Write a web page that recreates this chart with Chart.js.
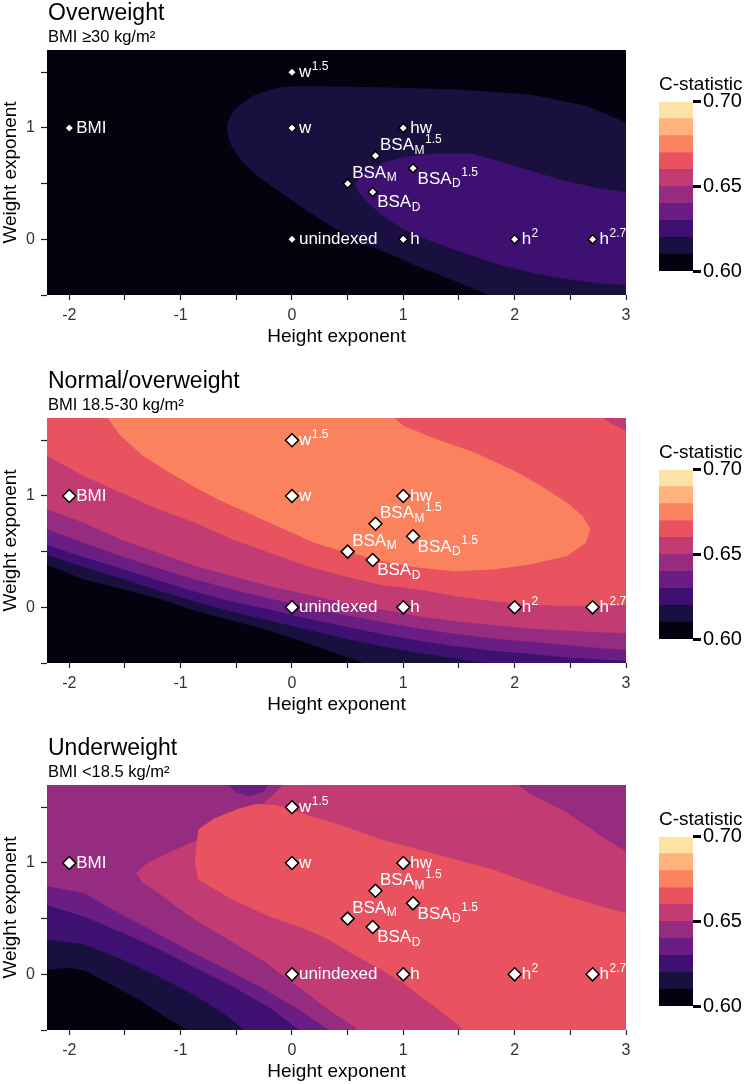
<!DOCTYPE html>
<html><head><meta charset="utf-8">
<script src="https://cdn.jsdelivr.net/npm/chart.js@4/dist/chart.umd.min.js"></script>
<style>
html,body{margin:0;padding:0;background:#fff;overflow:hidden;}
#wrap{position:relative;width:749px;height:1084px;overflow:hidden;}
#wrap canvas{position:absolute;}
</style></head><body><div id="wrap"></div>
<script>
// ---------------- DATA ----------------
const panelTitles = ['Overweight', 'Normal/overweight', 'Underweight'];
const panelSubtitles = ['BMI \u226530 kg/m\u00b2', 'BMI 18.5-30 kg/m\u00b2', 'BMI <18.5 kg/m\u00b2'];

// Indexing methods: height exponent (x), weight exponent (y)
const indexLabels = ['BMI', 'w^1.5', 'w', 'hw', 'BSA_M^1.5', 'BSA_M', 'BSA_D^1.5', 'BSA_D', 'unindexed', 'h', 'h^2', 'h^2.7'];
const heightExp   = [-2, 0, 0, 1, 0.75, 0.5, 1.0875, 0.725, 0, 1, 2, 2.7];
const weightExp   = [1, 1.5, 1, 1, 0.75, 0.5, 0.6375, 0.425, 0, 0, 0, 0];

const xTickValues = [-2, -1.5, -1, -0.5, 0, 0.5, 1, 1.5, 2, 2.5, 3];
const yTickValues = [-0.5, 0, 0.5, 1, 1.5];
const cStatBreaks = [0.60, 0.61, 0.62, 0.63, 0.64, 0.65, 0.66, 0.67, 0.68, 0.69, 0.70];
const cStatTicks  = [0.60, 0.65, 0.70];

// Contour regions (C-statistic >= break), [height exp, weight exp]
const everywhere = [[-3, -1], [4, -1], [4, 2.5], [-3, 2.5]];

// Overweight
const ow061 = [[3.4,1.0],[3.0,1.05],[2.64,1.20],[2.14,1.30],[1.47,1.345],[0.80,1.366],[0.13,1.375],[-0.08,1.37],[-0.2,1.34],[-0.35,1.29],[-0.45,1.22],[-0.53,1.15],[-0.58,1.05],[-0.585,0.97],[-0.55,0.85],[-0.45,0.70],[-0.3,0.56],[-0.1,0.42],[0.1,0.28],[0.3,0.15],[0.5,0.03],[0.7,-0.06],[0.9,-0.14],[1.1,-0.23],[1.3,-0.31],[1.5,-0.39],[1.7,-0.47],[1.8,-0.52],[1.9,-0.7],[3.4,-0.7]];
const ow062 = [[0.57,0.50],[0.62,0.57],[0.70,0.63],[0.80,0.68],[0.92,0.72],[1.06,0.745],[1.3,0.77],[1.6,0.77],[1.8,0.72],[2.1,0.63],[2.4,0.54],[2.7,0.47],[3.0,0.42],[3.4,0.40],[3.4,-0.43],[3.0,-0.41],[2.8,-0.40],[2.5,-0.36],[2.2,-0.31],[1.9,-0.24],[1.66,-0.16],[1.39,-0.07],[1.15,0.02],[0.97,0.11],[0.80,0.22],[0.68,0.33],[0.60,0.42]];

// Normal/overweight
const nw061 = [[-2.5,2.0],[-2.5,0.45],[-2.2,0.385],[-1.87,0.25],[-1.54,0.17],[-1.20,0.08],[-0.87,-0.03],[-0.535,-0.12],[-0.2,-0.21],[0.134,-0.32],[0.47,-0.44],[0.70,-0.52],[0.8,-0.7],[3.4,-0.7],[3.4,2.0]];
const nw062 = [[-2.5,2.0],[-2.5,0.55],[-2.2,0.47],[-1.87,0.36],[-1.54,0.26],[-1.20,0.15],[-0.87,0.05],[-0.535,-0.04],[-0.2,-0.12],[0.134,-0.20],[0.47,-0.28],[0.80,-0.35],[1.14,-0.41],[1.47,-0.46],[1.81,-0.51],[1.9,-0.7],[3.4,-0.7],[3.4,2.0]];
const nw063 = [[-2.5,2.0],[-2.5,0.65],[-2.2,0.56],[-1.87,0.45],[-1.54,0.35],[-1.20,0.24],[-0.87,0.14],[-0.535,0.05],[-0.2,-0.02],[0.134,-0.10],[0.47,-0.17],[0.80,-0.24],[1.14,-0.30],[1.47,-0.35],[1.81,-0.39],[2.14,-0.42],[2.47,-0.45],[2.81,-0.47],[3.0,-0.48],[3.4,-0.5],[3.4,2.0]];
const nw064 = [[-2.5,2.0],[-2.5,0.80],[-2.2,0.70],[-1.87,0.58],[-1.54,0.46],[-1.20,0.35],[-0.87,0.25],[-0.535,0.16],[-0.2,0.08],[0.134,0.0],[0.47,-0.07],[0.80,-0.13],[1.14,-0.19],[1.47,-0.24],[1.81,-0.28],[2.14,-0.31],[2.47,-0.34],[2.81,-0.37],[3.0,-0.38],[3.4,-0.4],[3.4,2.0]];
const nw065 = [[-2.5,2.0],[-2.5,1.0],[-2.2,0.88],[-1.87,0.76],[-1.54,0.61],[-1.20,0.49],[-0.87,0.37],[-0.535,0.28],[-0.2,0.19],[0.134,0.114],[0.47,0.04],[0.80,-0.02],[1.14,-0.08],[1.47,-0.126],[1.81,-0.16],[2.14,-0.19],[2.47,-0.21],[2.81,-0.225],[3.0,-0.23],[3.4,-0.24],[3.4,2.0]];
const nw066 = [[-2.5,2.0],[-2.5,1.46],[-2.2,1.36],[-1.87,1.18],[-1.54,1.03],[-1.20,0.88],[-0.87,0.76],[-0.535,0.61],[-0.2,0.49],[0.134,0.37],[0.47,0.28],[0.80,0.20],[1.14,0.16],[1.47,0.10],[1.81,0.054],[2.14,0.024],[2.47,0.01],[2.81,0.01],[3.0,0.02],[3.4,0.03],[3.4,1.45],[3.0,1.58],[2.85,1.66],[2.72,1.75],[2.65,2.0]];
const nw067 = [[-1.72,1.9],[-1.67,1.72],[-1.54,1.54],[-1.34,1.36],[-1.10,1.21],[-0.87,1.075],[-0.635,0.955],[-0.40,0.85],[-0.2,0.76],[0,0.67],[0.2,0.58],[0.40,0.52],[0.635,0.46],[0.87,0.40],[1.14,0.355],[1.47,0.325],[1.81,0.34],[2.14,0.385],[2.47,0.46],[2.64,0.58],[2.68,0.70],[2.61,0.82],[2.47,0.94],[2.24,1.09],[1.97,1.24],[1.64,1.39],[1.30,1.51],[1.0,1.63],[0.90,1.72],[0.86,1.9]];

// Underweight
const uw061 = [[-2.5,2.0],[-2.5,0.05],[-2.2,0.04],[-2.0,0.06],[-1.85,0.03],[-1.70,-0.05],[-1.37,-0.23],[-1.14,-0.38],[-0.94,-0.50],[-0.9,-0.7],[3.4,-0.7],[3.4,2.0]];
const uw062 = [[-2.5,2.0],[-2.5,0.35],[-2.2,0.31],[-1.87,0.27],[-1.54,0.14],[-1.20,-0.02],[-0.87,-0.19],[-0.60,-0.36],[-0.43,-0.50],[-0.4,-0.7],[3.4,-0.7],[3.4,2.0]];
const uw063 = [[-2.5,2.0],[-2.5,0.68],[-2.2,0.62],[-1.87,0.52],[-1.54,0.38],[-1.20,0.23],[-0.87,0.06],[-0.535,-0.11],[-0.2,-0.30],[0.06,-0.50],[0.1,-0.7],[3.4,-0.7],[3.4,2.0]];
const uw064 = [[-2.5,2.0],[-2.5,0.85],[-2.2,0.79],[-1.87,0.73],[-1.61,0.58],[-1.27,0.40],[-0.94,0.22],[-0.60,0.05],[-0.27,-0.12],[0.067,-0.32],[0.33,-0.50],[0.36,-0.7],[3.4,-0.7],[3.4,2.0],[-0.18,2.0],[-0.18,1.75],[-0.25,1.64],[-0.38,1.60],[-0.5,1.63],[-0.62,1.75],[-0.62,2.0]];
const uw065 = [[-0.05,1.9],[-0.05,1.75],[-0.12,1.66],[-0.25,1.54],[-0.40,1.45],[-0.55,1.37],[-0.70,1.28],[-0.87,1.20],[-1.04,1.12],[-1.20,1.05],[-1.30,1.0],[-1.40,0.91],[-1.34,0.82],[-1.20,0.73],[-1.04,0.61],[-0.87,0.49],[-0.67,0.37],[-0.47,0.25],[-0.27,0.13],[-0.07,-0.02],[0.134,-0.17],[0.33,-0.32],[0.56,-0.47],[0.6,-0.52],[0.63,-0.7],[3.4,-0.7],[3.4,1.05],[3.0,1.1],[2.81,1.22],[2.47,1.45],[2.14,1.62],[2.0,1.72],[1.95,1.9]];
const uw066 = [[-0.84,1.30],[-0.70,1.40],[-0.50,1.48],[-0.33,1.53],[-0.15,1.52],[0.0,1.48],[0.134,1.43],[0.47,1.33],[0.80,1.21],[1.14,1.12],[1.47,1.03],[1.81,0.94],[2.14,0.82],[2.47,0.70],[2.81,0.60],[3.0,0.55],[3.4,0.48],[3.4,-0.8],[1.6,-0.8],[1.54,-0.50],[1.40,-0.38],[1.20,-0.23],[1.0,-0.08],[0.80,0.04],[0.535,0.19],[0.33,0.31],[0.134,0.40],[-0.2,0.52],[-0.535,0.67],[-0.84,0.85],[-0.87,1.0],[-0.86,1.15]];

const overweightRegions = [everywhere, ow061, ow062];
const normalRegions     = [everywhere, nw061, nw062, nw063, nw064, nw065, nw066, nw067];
const underweightRegions= [everywhere, uw061, uw062, uw063, uw064, uw065, uw066];

// ---------------- STYLE ----------------
const bandColors = ['#030310', '#1a1040', '#3d1072', '#6a1d82', '#952c80', '#c23b73', '#e8535f', '#fa825f', '#feb37c', '#fde3a5'];
const FONT = "'Liberation Sans', Arial, Helvetica, sans-serif";
const labelNudge = { 'BSA_M^1.5': [4.5, -10.5], 'BSA_M': [4.5, -10.5], 'BSA_D^1.5': [4.5, 10.5], 'BSA_D': [4.5, 10.5] };
const panels = [
  { regions: overweightRegions, markerRadius: 4.5, top: 0 },
  { regions: normalRegions, markerRadius: 6.5, top: 368 },
  { regions: underweightRegions, markerRadius: 6.5, top: 735 }
];

function drawRich(ctx, s, x, y) {
  const m = s.match(/^([^_^]+)(?:_([^_^]+))?(?:\^(.+))?$/);
  const base = m[1], sub = m[2], sup = m[3];
  ctx.font = '17px ' + FONT;
  ctx.fillText(base, x, y);
  let cx = x + ctx.measureText(base).width;
  ctx.font = '12px ' + FONT;
  let w2 = 0;
  if (sub) { ctx.fillText(sub, cx + 0.5, y + 5); w2 = ctx.measureText(sub).width + 0.5; }
  if (sup) { ctx.fillText(sup, cx + w2 + 0.5, y - 6); }
}

const indexLabelPlugin = {
  id: 'indexLabels',
  afterDatasetsDraw(chart) {
    const idx = chart.data.datasets.length - 1;
    const meta = chart.getDatasetMeta(idx);
    const ctx = chart.ctx;
    ctx.save();
    ctx.fillStyle = '#ffffff';
    ctx.textAlign = 'left';
    ctx.textBaseline = 'middle';
    meta.data.forEach((el, i) => {
      const lab = indexLabels[i];
      const nd = labelNudge[lab] || [7, 0];
      drawRich(ctx, lab, el.x + nd[0], el.y + nd[1]);
    });
    ctx.restore();
  }
};

const panelTextPlugin = {
  id: 'panelText',
  afterDraw(chart, args, o) {
    if (!o || !o.title) return;
    const ctx = chart.ctx;
    ctx.save();
    ctx.fillStyle = '#000';
    ctx.textAlign = 'left';
    ctx.textBaseline = 'alphabetic';
    ctx.font = '23px ' + FONT;
    ctx.fillText(o.title, 48, 20);
    ctx.font = '16.5px ' + FONT;
    ctx.fillText(o.subtitle, 48, 42);
    ctx.restore();
  }
};

const wrap = document.getElementById('wrap');
function makeCanvas(left, top, w, h) {
  const c = document.createElement('canvas');
  c.width = w; c.height = h;
  c.style.left = left + 'px'; c.style.top = top + 'px';
  c.style.width = w + 'px'; c.style.height = h + 'px';
  wrap.appendChild(c);
  return c;
}

panels.forEach((p, pi) => {
  const datasets = p.regions.map((pts, lvl) => ({
    type: 'line',
    data: pts.map(q => ({ x: q[0], y: q[1] })),
    fill: 'shape',
    backgroundColor: bandColors[lvl],
    borderWidth: 0,
    pointRadius: 0,
    pointHitRadius: 0,
    tension: 0,
    order: 100 - lvl
  }));
  datasets.push({
    type: 'scatter',
    data: heightExp.map((x, i) => ({ x: x, y: weightExp[i] })),
    pointStyle: 'rectRot',
    pointRadius: p.markerRadius,
    backgroundColor: '#ffffff',
    borderColor: '#000000',
    borderWidth: 1.5,
    showLine: false,
    order: 0
  });

  new Chart(makeCanvas(0, p.top, 640, 350), {
    type: 'scatter',
    data: { datasets },
    plugins: [indexLabelPlugin, panelTextPlugin],
    options: {
      responsive: false, animation: false, events: [],
      layout: { padding: { top: 50, right: 14, left: 0, bottom: 0 } },
      plugins: {
        legend: { display: false }, tooltip: { enabled: false },
        panelText: { title: panelTitles[pi], subtitle: panelSubtitles[pi] }
      },
      scales: {
        x: {
          type: 'linear', min: -2.2, max: 3,
          afterBuildTicks: s => { s.ticks = xTickValues.map(v => ({ value: v })); },
          afterFit: s => { s.height = 55; },
          ticks: { callback: v => Number.isInteger(v) ? String(v) : '', font: { size: 16, family: FONT }, color: '#333', padding: 6, maxRotation: 0, autoSkip: false },
          grid: { drawOnChartArea: false, tickLength: 5, tickColor: '#222', tickWidth: 1.2 },
          border: { display: false },
          title: { display: true, text: 'Height exponent', color: '#000', font: { size: 19, family: FONT, lineHeight: 1.2 }, padding: { top: 0, bottom: 1.6 } }
        },
        y: {
          type: 'linear', min: -0.5, max: 1.7,
          afterBuildTicks: s => { s.ticks = yTickValues.map(v => ({ value: v })); },
          afterFit: s => { s.width = 47; },
          ticks: { callback: v => Number.isInteger(v) ? String(v) : '', font: { size: 16, family: FONT }, color: '#333', padding: 6, autoSkip: false },
          grid: { drawOnChartArea: false, tickLength: 6, tickColor: '#222', tickWidth: 1.2 },
          border: { display: false },
          title: { display: true, text: 'Weight exponent', color: '#000', font: { size: 19, family: FONT, lineHeight: 1.1 }, padding: 0 }
        }
      }
    }
  });

  // colour bar
  new Chart(makeCanvas(640, p.top, 109, 290), {
    type: 'bar',
    data: {
      labels: [''],
      datasets: bandColors.map((c, i) => ({
        data: [[cStatBreaks[i], cStatBreaks[i + 1]]],
        backgroundColor: c, borderWidth: 0,
        barPercentage: 1, categoryPercentage: 1, grouped: false
      }))
    },
    options: {
      responsive: false, animation: false, events: [],
      layout: { padding: { top: 0, left: 19, right: 0, bottom: 19 } },
      plugins: {
        legend: { display: false }, tooltip: { enabled: false },
        title: { display: true, text: 'C-statistic', align: 'start', color: '#000', font: { size: 19, family: FONT, weight: 'normal', lineHeight: 1 }, padding: { top: 75, bottom: 7.7 } }
      },
      scales: {
        x: { display: false },
        y: {
          position: 'right', min: 0.60, max: 0.70,
          afterBuildTicks: s => { s.ticks = cStatTicks.map(v => ({ value: v })); },
          afterFit: s => { s.width = 56; },
          ticks: { callback: v => v.toFixed(2), font: { size: 20, family: FONT }, color: '#000', padding: 2 },
          grid: { drawOnChartArea: false, tickLength: 8, tickWidth: 3, tickColor: '#000' },
          border: { display: false }
        }
      }
    }
  });
});
</script>
</body></html>
